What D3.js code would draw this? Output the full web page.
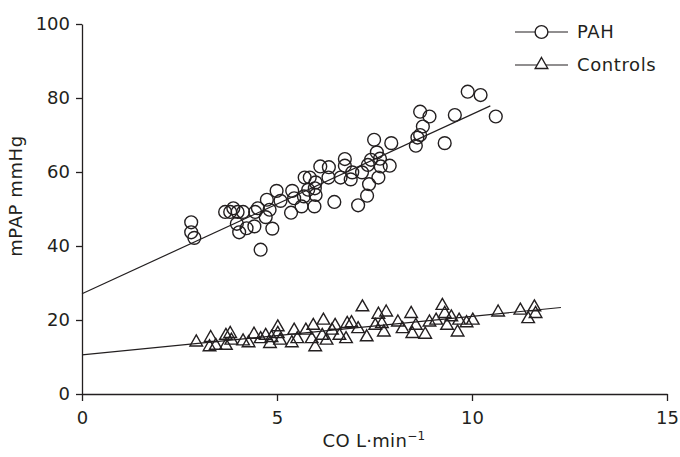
<!DOCTYPE html>
<html>
<head>
<meta charset="utf-8">
<script src="https://cdn.jsdelivr.net/npm/d3@7"></script>
<style>
  html, body { margin: 0; padding: 0; background: #fff; }
  svg { display: block; font-family: "DejaVu Sans", sans-serif; }
</style>
</head>
<body>
<svg id="chart" width="680" height="457"></svg>
<script>
// ---- Data ----
const xTicks = [0, 5, 10, 15];
const yTicks = [0, 20, 40, 60, 80, 100];
const seriesNames = ["PAH", "Controls"];

const pahCO = [2.8, 2.8, 2.88, 3.67, 3.8, 3.88, 3.99, 4.13, 3.97, 4.03, 4.22, 4.42, 4.44, 4.51, 4.58, 4.71, 4.74, 4.81, 4.88, 4.99,
  5.09, 5.36, 5.39, 5.44, 5.63, 5.71, 5.8, 5.84, 5.69, 5.96, 5.97, 5.99, 5.99, 6.11, 6.33, 6.32, 6.47, 6.74, 6.74, 6.63,
  6.89, 6.93, 7.08, 7.18, 7.31, 7.36, 7.33, 7.41, 7.49, 7.56, 7.6, 7.66, 7.64, 7.89, 7.93, 8.56, 8.6, 8.67, 8.74, 8.67,
  8.91, 9.3, 9.56, 9.89, 10.22, 10.61];
const pahMPAP = [46.4, 43.7, 42.2, 49.2, 49.2, 50.2, 49.2, 49.2, 46.0, 43.7, 44.8, 45.3, 49.2, 50.2, 39.0, 47.8, 52.5, 49.8, 44.7, 54.9,
  52.2, 49.0, 54.9, 52.9, 50.7, 58.5, 55.2, 58.5, 53.4, 50.7, 55.6, 57.2, 53.8, 61.5, 61.3, 58.5, 51.9, 63.5, 61.7, 58.5,
  58.0, 59.9, 51.0, 59.9, 53.6, 56.7, 61.9, 63.3, 68.7, 65.3, 58.5, 61.5, 63.6, 61.7, 67.8, 67.1, 69.3, 70.0, 72.3, 76.3,
  75.0, 67.8, 75.4, 81.7, 80.8, 75.0];

const ctlCO = [2.93, 3.3, 3.27, 3.43, 3.69, 3.8, 3.69, 3.83, 4.13, 4.27, 4.41, 4.58, 4.71, 4.82, 4.86, 5.02, 5.02, 5.08, 5.38, 5.44,
  5.52, 5.74, 5.93, 5.98, 5.89, 6.16, 6.19, 6.27, 6.41, 6.49, 6.6, 6.8, 6.77, 6.91, 7.08, 7.19, 7.3, 7.52, 7.6, 7.69,
  7.74, 7.8, 8.1, 8.22, 8.44, 8.47, 8.56, 8.8, 8.91, 9.08, 9.24, 9.3, 9.36, 9.47, 9.63, 9.67, 9.86, 10.02, 10.67, 11.24,
  11.44, 11.6, 11.63];
const ctlMPAP = [14.2, 15.4, 12.9, 13.3, 16.0, 16.5, 13.3, 14.7, 14.5, 14.0, 16.3, 15.1, 16.0, 13.8, 15.4, 18.3, 16.5, 14.7, 14.0, 17.4,
  15.1, 17.4, 18.7, 12.9, 15.1, 16.0, 20.1, 14.7, 17.4, 18.7, 16.0, 19.2, 15.1, 19.4, 17.8, 23.7, 15.6, 18.7, 21.7, 19.2,
  16.9, 22.3, 19.6, 17.8, 21.9, 16.5, 18.7, 16.3, 19.6, 20.1, 24.1, 21.9, 18.7, 21.0, 16.9, 20.1, 19.4, 20.1, 22.3, 22.8,
  20.5, 23.7, 21.9];

// regression lines: [intercept, slope], x-range
const pahFit = [27.1, 4.85];
const pahFitRange = [0, 10.47];
const ctlFit = [10.6, 1.04];
const ctlFitRange = [0, 12.28];

// ---- Drawing ----
const svg = d3.select("#chart");
const ink = "#231f20";
const font = '"DejaVu Sans", sans-serif';
const x = d3.scaleLinear().domain([0, 15]).range([82, 667]);
const y = d3.scaleLinear().domain([0, 100]).range([394, 24]);

// axes
const xAxis = svg.append("g").attr("transform", `translate(0,${y(0)})`)
  .call(d3.axisBottom(x).tickValues(xTicks).tickFormat(d3.format("d")).tickSize(7).tickPadding(10).tickSizeOuter(0));
const yAxis = svg.append("g").attr("transform", `translate(${x(0)},0)`)
  .call(d3.axisLeft(y).tickValues(yTicks).tickFormat(d3.format("d")).tickSize(6).tickPadding(6).tickSizeOuter(0));
[xAxis, yAxis].forEach(g => {
  g.selectAll("path, line").attr("stroke", ink).attr("stroke-width", 1.3);
  g.selectAll("text").attr("fill", ink).style("font-size", "18px").style("font-family", font);
});

// axis titles
svg.append("text").attr("x", 374).attr("y", 447).attr("text-anchor", "middle")
  .attr("fill", ink).style("font-size", "18px").style("font-family", font).style("letter-spacing", "0.3px")
  .html('CO L·min<tspan dy="-7" font-size="12px">−1</tspan>');
svg.append("text").attr("transform", "translate(22,196) rotate(-90)").attr("text-anchor", "middle")
  .attr("fill", ink).style("font-size", "18px").style("font-family", font).style("letter-spacing", "0.6px")
  .text("mPAP mmHg");

// regression lines
function fitLine(fit, range) {
  return range.map(v => [x(v), y(fit[0] + fit[1] * v)]);
}
const line = d3.line();
svg.append("path").attr("d", line(fitLine(pahFit, pahFitRange))).attr("stroke", ink).attr("stroke-width", 1.2).attr("fill", "none");
svg.append("path").attr("d", line(fitLine(ctlFit, ctlFitRange))).attr("stroke", ink).attr("stroke-width", 1.2).attr("fill", "none");

// triangle path centred at 0,0
const triPath = "M0,-6.5L6.3,4.5L-6.3,4.5Z";

// controls triangles
svg.append("g").selectAll("path").data(ctlCO.map((c, i) => [c, ctlMPAP[i]])).join("path")
  .attr("d", triPath)
  .attr("transform", d => `translate(${x(d[0])},${y(d[1])})`)
  .attr("fill", "none").attr("stroke", ink).attr("stroke-width", 1.4);

// PAH circles
svg.append("g").selectAll("circle").data(pahCO.map((c, i) => [c, pahMPAP[i]])).join("circle")
  .attr("cx", d => x(d[0])).attr("cy", d => y(d[1])).attr("r", 6.4)
  .attr("fill", "none").attr("stroke", ink).attr("stroke-width", 1.4);

// legend
const leg = svg.append("g");
seriesNames.forEach((name, i) => {
  const cy = 32 + i * 33;
  leg.append("line").attr("x1", 515).attr("x2", 568).attr("y1", cy).attr("y2", cy)
    .attr("stroke", ink).attr("stroke-width", 1.2);
  if (i === 0) {
    leg.append("circle").attr("cx", 541.5).attr("cy", cy).attr("r", 6.4)
      .attr("fill", "#fff").attr("stroke", ink).attr("stroke-width", 1.4);
  } else {
    leg.append("path").attr("d", triPath).attr("transform", `translate(541.5,${cy - 1})`)
      .attr("fill", "#fff").attr("stroke", ink).attr("stroke-width", 1.4);
  }
  leg.append("text").attr("x", 577).attr("y", cy).attr("dy", "0.36em")
    .attr("fill", ink).style("font-size", "18px").style("font-family", font).style("letter-spacing", "0.6px")
    .text(name);
});
</script>
</body>
</html>
